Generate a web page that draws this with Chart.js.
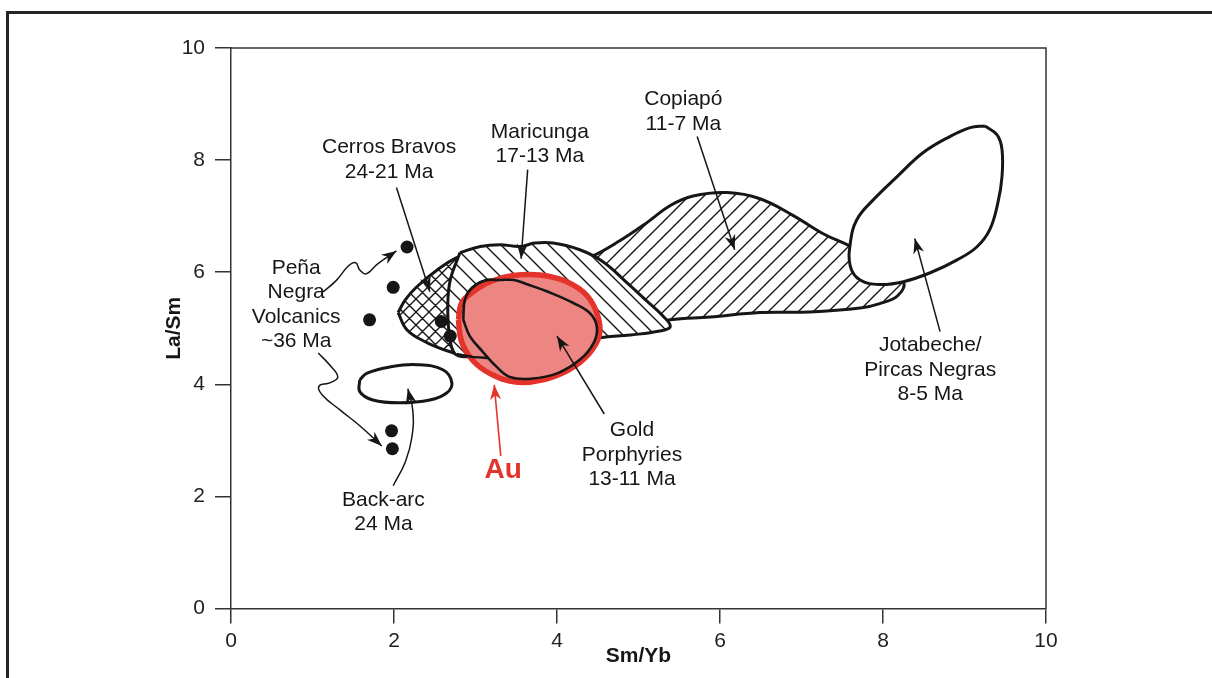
<!DOCTYPE html>
<html>
<head>
<meta charset="utf-8">
<script src="https://cdn.jsdelivr.net/npm/chart.js@4.4.1/dist/chart.umd.min.js"></script>
<style>
  html, body { margin: 0; padding: 0; background: #fff; }
  #wrap { width: 1212px; height: 678px; }
</style>
</head>
<body>
<div id="wrap"><canvas id="c" width="1212" height="678"></canvas></div>
<script>
// Axis ticks
const X_TICKS = [0, 2, 4, 6, 8, 10];
const Y_TICKS = [0, 2, 4, 6, 8, 10];

// Field outlines, [Sm/Yb, La/Sm]
const COPIAPO = [[4.10,6.13],[4.41,6.27],[4.77,6.56],[5.10,6.88],[5.39,7.19],[5.67,7.36],[6.09,7.42],[6.49,7.31],[6.90,7.01],[7.26,6.69],[7.59,6.47],[7.96,6.19],[8.25,5.83],[8.18,5.58],[7.96,5.44],[7.72,5.36],[7.10,5.29],[6.49,5.28],[5.88,5.20],[5.39,5.15],[4.77,5.01],[4.28,5.06],[4.04,5.51],[4.10,6.13]];
const MARICUNGA = [[2.81,6.35],[3.06,6.46],[3.30,6.49],[3.55,6.46],[3.73,6.52],[3.95,6.52],[4.28,6.40],[4.56,6.19],[4.86,5.81],[5.10,5.49],[5.30,5.22],[5.39,5.03],[5.26,4.95],[4.90,4.88],[4.53,4.83],[4.04,4.70],[3.55,4.58],[3.18,4.47],[2.93,4.49],[2.75,4.54],[2.68,4.88],[2.66,5.42],[2.69,5.86],[2.81,6.35]];
const CERROS_BRAVOS = [[2.05,5.28],[2.14,5.51],[2.28,5.74],[2.53,6.04],[2.77,6.26],[3.06,6.40],[3.30,6.31],[3.36,5.51],[3.24,4.53],[2.93,4.49],[2.69,4.58],[2.41,4.74],[2.16,4.97],[2.05,5.28]];
const GOLD_PORPHYRIES = [[2.85,5.15],[2.87,5.51],[2.96,5.72],[3.12,5.85],[3.30,5.86],[3.47,5.86],[3.64,5.78],[3.89,5.65],[4.20,5.45],[4.41,5.26],[4.49,5.01],[4.45,4.74],[4.29,4.45],[4.01,4.20],[3.68,4.10],[3.42,4.13],[3.26,4.31],[3.09,4.58],[2.93,4.86],[2.85,5.15]];
const GOLD_SEAM = [[2.77,4.54],[2.96,4.49],[3.15,4.47]];
const AU_FIELD = [[2.79,5.15],[2.83,5.45],[2.97,5.65],[3.18,5.83],[3.46,5.94],[3.79,5.95],[4.12,5.83],[4.37,5.58],[4.50,5.22],[4.52,4.88],[4.39,4.54],[4.15,4.26],[3.83,4.08],[3.49,4.04],[3.18,4.19],[2.97,4.42],[2.83,4.76],[2.79,5.15]];
const JOTABECHE = [[9.25,8.61],[9.40,8.45],[9.46,8.19],[9.46,7.70],[9.41,7.24],[9.31,6.76],[9.15,6.45],[8.91,6.22],[8.58,5.99],[8.25,5.83],[7.96,5.78],[7.72,5.86],[7.60,6.10],[7.60,6.53],[7.68,6.94],[7.88,7.29],[8.17,7.70],[8.49,8.13],[8.82,8.42],[9.07,8.58],[9.25,8.61]];
const BACK_ARC = [[1.58,4.08],[1.67,4.20],[1.95,4.31],[2.28,4.35],[2.60,4.26],[2.71,4.03],[2.65,3.85],[2.44,3.72],[2.07,3.67],[1.74,3.72],[1.58,3.87],[1.58,4.08]];

// Individual samples
const PENA_NEGRA_SAMPLES = [[2.16,6.45],[1.99,5.73],[1.70,5.15],[2.58,5.12],[2.69,4.86]];
const BACK_ARC_SAMPLES = [[1.97,3.17],[1.98,2.85]];

// Leader arrows (tail to head)
const ARROW_COPIAPO = [[5.72,8.42],[6.18,6.40]];
const ARROW_MARICUNGA = [[3.64,7.83],[3.56,6.24]];
const ARROW_CERROS = [[2.03,7.51],[2.44,5.65]];
const ARROW_PENA_UP = [[1.13,5.65],[1.29,5.85],[1.44,6.11],[1.53,6.17],[1.58,6.04],[1.66,5.97],[1.80,6.15],[2.03,6.38]];
const ARROW_PENA_DOWN = [[1.07,4.56],[1.22,4.33],[1.31,4.13],[1.22,4.03],[1.08,3.97],[1.12,3.81],[1.34,3.54],[1.58,3.26],[1.85,2.90]];
const ARROW_BACK_ARC = [[1.99,2.19],[2.14,2.62],[2.22,3.06],[2.23,3.54],[2.17,3.92]];
const ARROW_GOLD = [[4.58,3.47],[4.00,4.86]];
const ARROW_JOTABECHE = [[8.70,4.94],[8.39,6.60]];
const ARROW_AU = [[3.31,2.72],[3.23,3.99]];

// Field names and where their text blocks sit
const LABEL_TEXT = [
  ['Copiapó', '11-7 Ma'],
  ['Maricunga', '17-13 Ma'],
  ['Cerros Bravos', '24-21 Ma'],
  ['Peña', 'Negra', 'Volcanics', '~36 Ma'],
  ['Jotabeche/', 'Pircas Negras', '8-5 Ma'],
  ['Gold', 'Porphyries', '13-11 Ma'],
  ['Back-arc', '24 Ma']
];
const LABEL_AT = [[5.55,8.86],[3.79,8.28],[1.94,8.01],[0.80,5.42],[8.58,4.26],[4.92,2.74],[1.87,1.72]];
const AU_TEXT = 'Au';
const AU_AT = [3.34, 2.47];

const FONT = '"Liberation Sans", Arial, Helvetica, sans-serif';
const INK = '#161616';

function pts(a) { return a.map(([x, y]) => ({ x, y })); }

// Hatch tiles: white ground with diagonal strokes
function hatch(size, dirs, width) {
  const c = document.createElement('canvas');
  c.width = c.height = size;
  const g = c.getContext('2d');
  g.fillStyle = '#fff';
  g.fillRect(0, 0, size, size);
  g.strokeStyle = INK;
  g.lineWidth = width;
  const s = size;
  g.beginPath();
  if (dirs.includes('/')) {
    for (const k of [0, 1, 2]) { g.moveTo(-2, k * s + 2); g.lineTo(k * s + 2, -2); }
  }
  if (dirs.includes('\\')) {
    for (const k of [-1, 0, 1]) { g.moveTo(k * s - 2, -2); g.lineTo(k * s + s + 2, s + 2); }
  }
  g.stroke();
  return g.createPattern(c, 'repeat');
}

const fwdHatch = hatch(15, '/', 1.4);
const backHatch = hatch(16, '\\', 1.4);
const crossHatch = hatch(13, '/\\', 1.4);

function field(data, bg, order, extra) {
  return Object.assign({
    data: pts(data), showLine: true, fill: 'shape', backgroundColor: bg,
    borderColor: INK, borderWidth: 3, tension: 0.4, pointRadius: 0, order
  }, extra || {});
}
function arrow(data, order, color, curve) {
  return {
    data: pts(data), showLine: true, fill: false, arrow: true,
    borderColor: color || INK, backgroundColor: color || INK,
    borderWidth: color ? 1.6 : 1.5, tension: curve ? 0.45 : 0, pointRadius: 0, order
  };
}

const datasets = [
  field(COPIAPO, fwdHatch, 100),
  field(CERROS_BRAVOS, crossHatch, 90),
  field(MARICUNGA, backHatch, 80),
  field(JOTABECHE, '#fff', 70),
  field(BACK_ARC, '#fff', 60),
  field(GOLD_PORPHYRIES, '#fff', 50),
  field(AU_FIELD, '#ED8583', 40, { borderColor: '#E4332A', borderWidth: 5.5 }),
  field(GOLD_PORPHYRIES, 'rgba(0,0,0,0)', 30, { fill: false, borderWidth: 2.6 }),
  field(GOLD_SEAM, 'rgba(0,0,0,0)', 29, { fill: false, borderWidth: 2.4, tension: 0.2 }),
  { data: pts(PENA_NEGRA_SAMPLES), pointRadius: 6.5, pointBackgroundColor: INK, pointBorderWidth: 0, order: 20 },
  { data: pts(BACK_ARC_SAMPLES), pointRadius: 6.5, pointBackgroundColor: INK, pointBorderWidth: 0, order: 20 },
  arrow(ARROW_COPIAPO, 10),
  arrow(ARROW_MARICUNGA, 10),
  arrow(ARROW_CERROS, 10),
  arrow(ARROW_PENA_UP, 10, null, true),
  arrow(ARROW_PENA_DOWN, 10, null, true),
  arrow(ARROW_BACK_ARC, 10, null, true),
  arrow(ARROW_GOLD, 10),
  arrow(ARROW_JOTABECHE, 10),
  arrow(ARROW_AU, 10, '#E4332A')
];

const annotate = {
  id: 'annotate',
  beforeDraw(chart) {
    const { ctx } = chart;
    ctx.save();
    ctx.fillStyle = '#fff';
    ctx.fillRect(0, 0, chart.width, chart.height);
    // page frame
    ctx.strokeStyle = '#262626';
    ctx.lineWidth = 3;
    ctx.beginPath();
    ctx.moveTo(7.5, chart.height);
    ctx.lineTo(7.5, 12.5);
    ctx.lineTo(chart.width, 12.5);
    ctx.stroke();
    ctx.restore();
  },
  afterDraw(chart) {
    const { ctx, chartArea: a, scales: { x, y } } = chart;
    ctx.save();
    // close the plot box
    ctx.strokeStyle = '#333';
    ctx.lineWidth = 1.5;
    ctx.beginPath();
    ctx.moveTo(a.left, a.top);
    ctx.lineTo(a.right, a.top);
    ctx.lineTo(a.right, a.bottom);
    ctx.stroke();

    // arrowheads at the end of each leader
    chart.data.datasets.forEach((ds, i) => {
      if (!ds.arrow) return;
      const el = chart.getDatasetMeta(i).data;
      const p = el[el.length - 1], q = el[el.length - 2];
      const ang = Math.atan2(p.y - q.y, p.x - q.x);
      const L = 15, W = 5.5, c = Math.cos(ang), s = Math.sin(ang);
      ctx.fillStyle = ds.borderColor;
      ctx.beginPath();
      ctx.moveTo(p.x, p.y);
      ctx.lineTo(p.x - L * c + W * s, p.y - L * s - W * c);
      ctx.lineTo(p.x - 0.7 * L * c, p.y - 0.7 * L * s);
      ctx.lineTo(p.x - L * c - W * s, p.y - L * s + W * c);
      ctx.closePath();
      ctx.fill();
    });

    // field labels
    ctx.textAlign = 'center';
    ctx.textBaseline = 'middle';
    ctx.fillStyle = INK;
    ctx.font = '21px ' + FONT;
    const step = 24.5;
    LABEL_TEXT.forEach((lines, i) => {
      const px = x.getPixelForValue(LABEL_AT[i][0]);
      const py = y.getPixelForValue(LABEL_AT[i][1]);
      lines.forEach((t, j) => {
        ctx.fillText(t, px, py + (j - (lines.length - 1) / 2) * step);
      });
    });
    ctx.fillStyle = '#E4332A';
    ctx.font = 'bold 28px ' + FONT;
    ctx.fillText(AU_TEXT, x.getPixelForValue(AU_AT[0]), y.getPixelForValue(AU_AT[1]));
    ctx.restore();
  }
};

const axisGrid = { display: true, drawOnChartArea: false, drawTicks: true, color: '#333', lineWidth: 1.5 };
const axisBorder = { display: true, color: '#333', width: 1.5 };
const tickFont = { family: FONT, size: 21 };
const titleFont = { family: FONT, size: 21, weight: 'bold' };

new Chart(document.getElementById('c'), {
  type: 'scatter',
  data: { datasets },
  options: {
    responsive: false,
    animation: false,
    devicePixelRatio: 1,
    layout: { padding: { left: 150, top: 48, right: 166, bottom: 0 } },
    plugins: { legend: { display: false }, tooltip: { enabled: false } },
    events: [],
    scales: {
      x: {
        type: 'linear', min: 0, max: 10,
        afterBuildTicks(s) { s.ticks = X_TICKS.map(v => ({ value: v })); },
        afterFit(s) { s.height = 69.5; },
        grid: Object.assign({ tickLength: 15 }, axisGrid),
        border: axisBorder,
        ticks: { font: tickFont, color: '#222', padding: 5, maxRotation: 0 },
        title: { display: true, text: 'Sm/Yb', font: titleFont, color: INK, padding: { top: 9, bottom: 9 } }
      },
      y: {
        type: 'linear', min: 0, max: 10,
        afterBuildTicks(s) { s.ticks = Y_TICKS.map(v => ({ value: v })); },
        afterFit(s) { s.width = 81; },
        grid: Object.assign({ tickLength: 16 }, axisGrid),
        border: axisBorder,
        ticks: { font: tickFont, color: '#222', padding: 10 },
        title: { display: true, text: 'La/Sm', font: titleFont, color: INK, padding: { top: 12, bottom: 12 } }
      }
    }
  },
  plugins: [annotate]
});
</script>
</body>
</html>
